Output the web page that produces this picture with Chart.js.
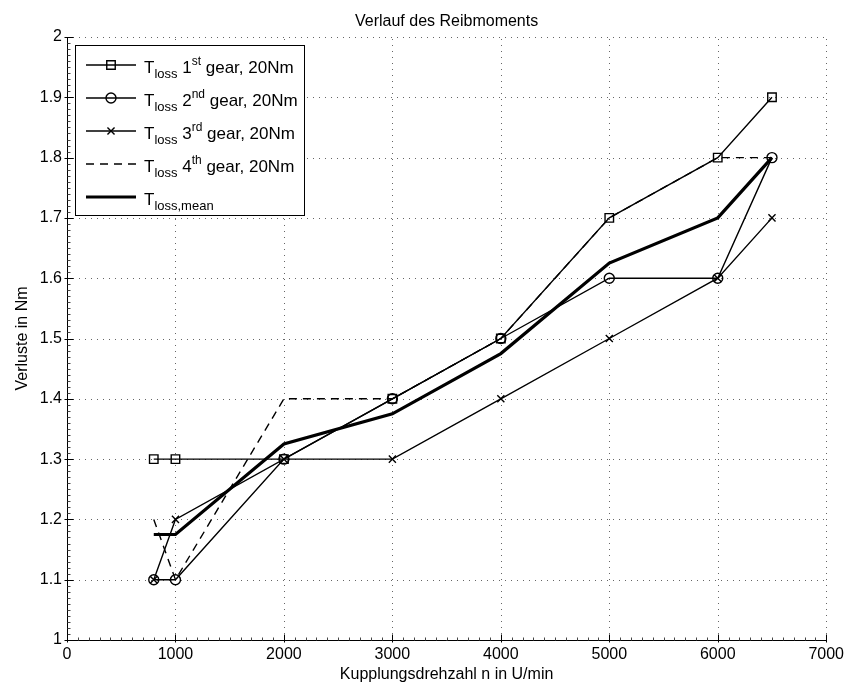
<!DOCTYPE html>
<html>
<head>
<meta charset="utf-8">
<title>Verlauf des Reibmoments</title>
<script src="https://cdn.jsdelivr.net/npm/chart.js@4.4.1/dist/chart.umd.min.js"></script>
<style>
  html, body { margin: 0; padding: 0; background: #fff; }
  #wrap { width: 849px; height: 682px; position: relative; }
</style>
</head>
<body>
<div id="wrap"><canvas id="lossChart" width="849" height="682"></canvas></div>
<script>
// Data
const rpm = [800, 1000, 2000, 3000, 4000, 5000, 6000, 6500];
const loss1st = [1.3, 1.3, 1.3, 1.4, 1.5, 1.7, 1.8, 1.9];
const loss2nd = [1.1, 1.1, 1.3, 1.4, 1.5, 1.6, 1.6, 1.8];
const loss3rd = [1.1, 1.2, 1.3, 1.3, 1.4, 1.5, 1.6, 1.7];
const loss4th = [1.2, 1.1, 1.4, 1.4, 1.5, 1.7, 1.8, 1.8];
const lossMean = [1.175, 1.175, 1.325, 1.375, 1.475, 1.625, 1.7, 1.8];

const xTickLabels = ['0', '1000', '2000', '3000', '4000', '5000', '6000', '7000'];
const yTickLabels = ['1', '1.1', '1.2', '1.3', '1.4', '1.5', '1.6', '1.7', '1.8', '1.9', '2'];

const gearNumbers = ['1', '2', '3', '4'];
const gearSuffixes = ['st', 'nd', 'rd', 'th'];

const chartTitle = 'Verlauf des Reibmoments';
const xTitle = 'Kupplungsdrehzahl n in U/min';
const yTitle = 'Verluste in Nm';

const FONT = "'Liberation Sans', Arial, sans-serif";

const toPoints = ys => rpm.map((x, i) => ({ x, y: ys[i] }));

function lineSet(label, values, extra) {
    return Object.assign({
        label,
        data: toPoints(values),
        borderColor: '#000',
        backgroundColor: 'rgba(0,0,0,0)',
        borderWidth: 1.4,
        pointBorderColor: '#000',
        pointBackgroundColor: 'rgba(0,0,0,0)',
        pointBorderWidth: 1.4,
        pointRadius: 0,
        pointHoverRadius: 0,
        tension: 0
    }, extra);
}

// Axes, grid and tick marks in the style of the original figure
const axesPlugin = {
    id: 'matlabAxes',
    beforeDatasetsDraw(chart) {
        const { ctx, chartArea: a, scales: { x, y } } = chart;
        ctx.save();
        ctx.strokeStyle = '#666';
        ctx.lineWidth = 1;
        ctx.setLineDash([1, 5]);
        x.ticks.forEach(t => {
            const px = Math.round(x.getPixelForValue(t.value)) + 0.5;
            if (t.value === x.min) return;
            ctx.beginPath(); ctx.moveTo(px, a.bottom); ctx.lineTo(px, a.top); ctx.stroke();
        });
        y.ticks.forEach(t => {
            const py = Math.round(y.getPixelForValue(t.value)) + 0.5;
            if (Math.abs(t.value - y.min) < 1e-9) return;
            ctx.beginPath(); ctx.moveTo(a.left, py); ctx.lineTo(a.right, py); ctx.stroke();
        });
        ctx.restore();
    },
    afterDatasetsDraw(chart) {
        const { ctx, chartArea: a, scales: { x, y } } = chart;
        const left = Math.round(a.left) + 0.5;
        const bottom = Math.round(a.bottom) + 0.5;
        ctx.save();
        ctx.strokeStyle = '#000';
        ctx.lineWidth = 1;
        ctx.beginPath();
        ctx.moveTo(left, a.top); ctx.lineTo(left, bottom); ctx.lineTo(a.right, bottom);
        ctx.stroke();

        // minor ticks
        ctx.strokeStyle = '#444';
        ctx.beginPath();
        for (let v = x.min; v <= x.max; v += 100) {
            const px = Math.round(x.getPixelForValue(v)) + 0.5;
            ctx.moveTo(px, bottom); ctx.lineTo(px, bottom - 3);
        }
        for (let k = 0; k <= 100; k++) {
            const py = Math.round(y.getPixelForValue(y.min + k * 0.01)) + 0.5;
            ctx.moveTo(left, py); ctx.lineTo(left + 3, py);
        }
        ctx.stroke();

        // major ticks
        ctx.strokeStyle = '#000';
        ctx.beginPath();
        x.ticks.forEach(t => {
            const px = Math.round(x.getPixelForValue(t.value)) + 0.5;
            ctx.moveTo(px, bottom + 2); ctx.lineTo(px, bottom - 6);
        });
        y.ticks.forEach(t => {
            const py = Math.round(y.getPixelForValue(t.value)) + 0.5;
            ctx.moveTo(left - 3, py); ctx.lineTo(left + 6, py);
        });
        ctx.stroke();
        ctx.restore();
    },
    afterDraw(chart) {
        const { ctx, chartArea: a } = chart;
        const cx = (a.left + a.right) / 2;
        ctx.save();
        ctx.fillStyle = '#000';
        ctx.font = '16px ' + FONT;
        ctx.textAlign = 'center';
        ctx.textBaseline = 'alphabetic';
        ctx.fillText(chartTitle, cx, 26);
        ctx.fillText(xTitle, cx, 679);
        ctx.translate(23, (a.top + a.bottom) / 2);
        ctx.rotate(-Math.PI / 2);
        ctx.textBaseline = 'middle';
        ctx.fillText(yTitle, 0, 0);
        ctx.restore();
    }
};

// Legend with sub- and superscripts
function drawRich(ctx, parts, x, y) {
    parts.forEach(p => {
        ctx.font = p.size + 'px ' + FONT;
        ctx.fillText(p.text, x, y + p.dy);
        x += ctx.measureText(p.text).width;
    });
}

const legendPlugin = {
    id: 'matlabLegend',
    afterDraw(chart) {
        const ctx = chart.ctx;
        const box = { x: 75.5, y: 45.5, w: 229, h: 170 };
        ctx.save();
        ctx.fillStyle = '#fff';
        ctx.fillRect(box.x, box.y, box.w, box.h);
        ctx.strokeStyle = '#000';
        ctx.lineWidth = 1;
        ctx.strokeRect(box.x, box.y, box.w, box.h);

        chart.data.datasets.forEach((ds, i) => {
            const ly = 65 + i * 33;
            ctx.strokeStyle = '#000';
            ctx.lineWidth = ds.borderWidth;
            ctx.setLineDash(ds.borderDash || []);
            ctx.beginPath(); ctx.moveTo(86, ly); ctx.lineTo(136, ly); ctx.stroke();
            ctx.setLineDash([]);
            if (ds.legendMarker) {
                ctx.fillStyle = 'rgba(0,0,0,0)';
                ctx.lineWidth = ds.pointBorderWidth;
                Chart.helpers.drawPoint(ctx, {
                    pointStyle: ds.pointStyle, radius: ds.pointRadius,
                    borderWidth: ds.pointBorderWidth, rotation: 0
                }, 111, ly);
            }
            ctx.fillStyle = '#000';
            ctx.textAlign = 'left';
            ctx.textBaseline = 'alphabetic';
            let parts;
            if (i < gearNumbers.length) {
                parts = [
                    { text: 'T', size: 17, dy: 0 },
                    { text: 'loss', size: 13, dy: 5 },
                    { text: ' ' + gearNumbers[i], size: 17, dy: 0 },
                    { text: gearSuffixes[i], size: 12, dy: -8 },
                    { text: ' gear, 20Nm', size: 17, dy: 0 }
                ];
            } else {
                parts = [
                    { text: 'T', size: 17, dy: 0 },
                    { text: 'loss,mean', size: 13, dy: 5 }
                ];
            }
            drawRich(ctx, parts, 144, ly + 8);
        });
        ctx.restore();
    }
};

const datasets = [
    lineSet('T_loss 1st gear, 20Nm', loss1st, { pointStyle: 'rect', pointRadius: 6, legendMarker: true }),
    lineSet('T_loss 2nd gear, 20Nm', loss2nd, { pointStyle: 'circle', pointRadius: 5, legendMarker: true }),
    lineSet('T_loss 3rd gear, 20Nm', loss3rd, { pointStyle: 'crossRot', pointRadius: 5, legendMarker: true }),
    lineSet('T_loss 4th gear, 20Nm', loss4th, { borderDash: [8, 6] }),
    lineSet('T_loss,mean', lossMean, { borderWidth: 3.2 })
];

const ctx = document.getElementById('lossChart').getContext('2d');
const myChart = new Chart(ctx, {
    type: 'line',
    data: { datasets },
    options: {
        responsive: false,
        animation: false,
        events: [],
        layout: { padding: { top: 37, right: 21, left: 0, bottom: 0 } },
        plugins: {
            legend: { display: false },
            title: { display: false },
            tooltip: { enabled: false }
        },
        scales: {
            x: {
                type: 'linear',
                min: 0,
                max: 7000,
                grid: { display: false, drawTicks: false },
                border: { display: false },
                afterFit: s => { s.height = 42; },
                ticks: {
                    stepSize: 1000,
                    padding: 5,
                    color: '#000',
                    font: { family: FONT, size: 16 },
                    maxRotation: 0,
                    callback: (v, i) => xTickLabels[i]
                }
            },
            y: {
                type: 'linear',
                min: 1,
                max: 2,
                grid: { display: false, drawTicks: false },
                border: { display: false },
                afterFit: s => { s.width = 67; },
                ticks: {
                    stepSize: 0.1,
                    padding: 5,
                    color: '#000',
                    font: { family: FONT, size: 16 },
                    callback: (v, i) => yTickLabels[i]
                }
            }
        }
    },
    plugins: [axesPlugin, legendPlugin]
});
</script>
</body>
</html>
